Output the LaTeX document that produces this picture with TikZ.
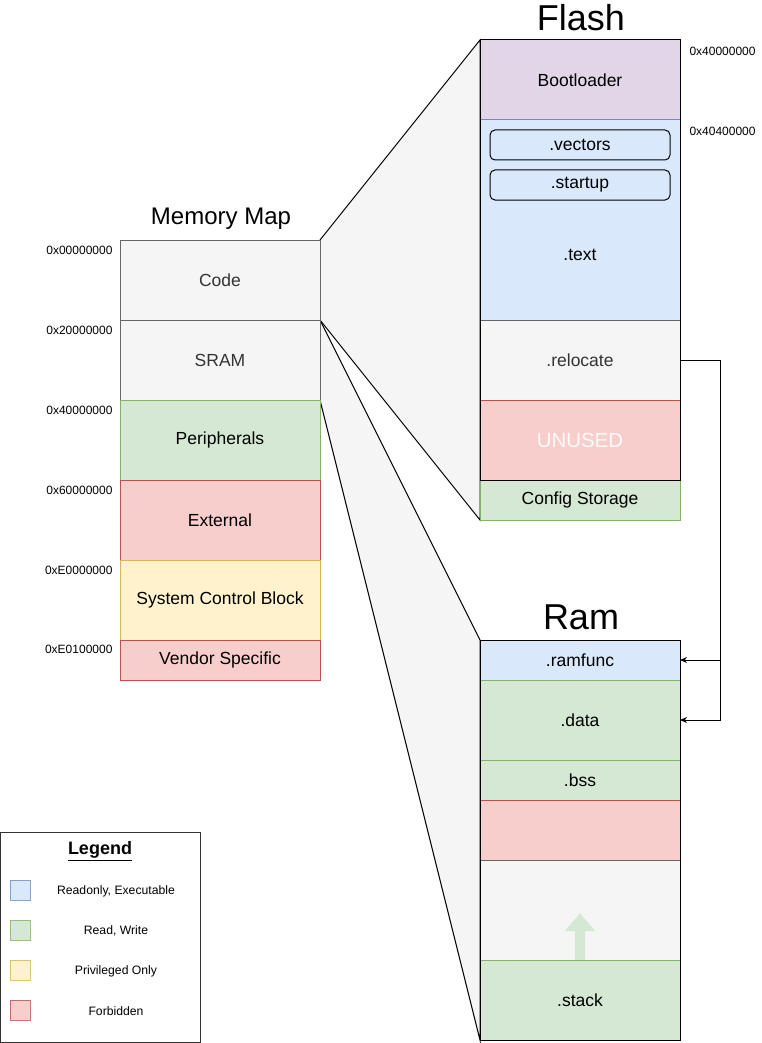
\documentclass[tikz,border=0pt]{standalone}
\usepackage{fontspec}
\setmainfont{Liberation Sans}
\usetikzlibrary{arrows.meta,backgrounds}
\definecolor{blueF}{HTML}{DAE8FC}\definecolor{blueD}{HTML}{6C8EBF}
\definecolor{greenF}{HTML}{D5E8D4}\definecolor{greenD}{HTML}{82B366}
\definecolor{redF}{HTML}{F8CECC}\definecolor{redD}{HTML}{B85450}
\definecolor{yellowF}{HTML}{FFF2CC}\definecolor{yellowD}{HTML}{D6B656}
\definecolor{purpleF}{HTML}{E1D5E7}\definecolor{purpleD}{HTML}{9673A6}
\definecolor{greyF}{HTML}{F5F5F5}\definecolor{greyD}{HTML}{666666}
\definecolor{greyT}{HTML}{333333}
\begin{document}
\begin{tikzpicture}[x=1pt,y=-1pt,>={Stealth[length=7pt,width=6pt]},
    sec/.style={draw,line width=1pt,inner sep=0pt,outer sep=0pt,anchor=north west,
        minimum width=200pt,font={\fontsize{17.5}{20}\selectfont}},
    rx/.style={sec,fill=blueF,draw=blueD},
    rw/.style={sec,fill=greenF,draw=greenD},
    priv/.style={sec,fill=yellowF,draw=yellowD},
    forb/.style={sec,fill=redF,draw=redD},
    idle/.style={sec,fill=greyF,draw=greyD,text=greyT},
    boot/.style={sec,fill=purpleF,draw=purpleD},
    swatch/.style={sec,minimum width=20pt,minimum height=20pt,draw opacity=0.8},
    addr/.style={font={\fontsize{12}{14}\selectfont}},
    title/.style={font={\fontsize{24}{28}\selectfont}},
    bigtitle/.style={font={\fontsize{36}{40}\selectfont}},
    keytext/.style={font={\fontsize{12.2}{14}\selectfont}},
    zoom/.style={fill=greyF,draw=black,line width=1pt}]
\useasboundingbox (0,0) rectangle (761,1043);

% memory map
\node[title] (maptitle) at (221,219) {Memory Map};
\node[idle,minimum height=80pt] (code) at (120,240) {Code};
\node[idle,minimum height=80pt] (sram) at (120,320) {SRAM};
\node[rw,minimum height=80pt] (periph) at (120,400) {Peripherals};
\node[forb,minimum height=80pt] (ext) at (120,480) {External};
\node[priv,minimum height=80pt] (scb) at (120,560) {System Control Block};
\node[forb,minimum height=40pt] (vendor) at (120,640) {Vendor Specific};
\node[addr,anchor=east] (a0) at (116,250) {0x00000000};
\node[addr,anchor=east] (a2) at (116,330) {0x20000000};
\node[addr,anchor=east] (a4) at (116,410) {0x40000000};
\node[addr,anchor=east] (a6) at (116,490) {0x60000000};
\node[addr,anchor=east] (ae) at (116,570) {0xE0000000};
\node[addr,anchor=east] (ae1) at (116,649) {0xE0100000};

% flash
\node[bigtitle] (flashtitle) at (581,18) {Flash};
\node[boot,minimum height=80pt] (bootl) at (480,40) {Bootloader};
\node[rx,minimum height=200pt] (textsec) at (480,120) {};
\node[rx,draw=black,rounded corners=5pt,minimum width=180pt,minimum height=30pt] (vectors) at (490,130) {.vectors};
\node[rx,draw=black,rounded corners=5pt,minimum width=180pt,minimum height=30pt] (startup) at (490,170) {.startup};
\node[font={\fontsize{17.5}{20}\selectfont}] (textlbl) at (580,255) {.text};
\node[idle,minimum height=80pt] (reloc) at (480,320) {.relocate};
\node[forb,minimum height=80pt,text=white,text opacity=0.9,font={\fontsize{20.4}{24}\selectfont}] (unused) at (480,400) {UNUSED};
\node[rw,minimum height=40pt] (cfg) at (480,480) {Config Storage};
\draw[line width=1pt] (bootl.north west) rectangle (unused.south east);
\node[addr,anchor=west] (f0) at (686,51) {0x40000000};
\node[addr,anchor=west] (f4) at (686,131) {0x40400000};

% ram
\node[bigtitle] (ramtitle) at (581,617) {Ram};
\node[rx,minimum height=40pt] (ramfunc) at (480,640) {.ramfunc};
\node[rw,minimum height=80pt] (data) at (480,680) {.data};
\node[rw,minimum height=40pt] (bss) at (480,760) {.bss};
\node[forb,minimum height=60pt] (gap) at (480,800) {};
\node[idle,minimum height=100pt] (free) at (480,860) {};
\node[rw,minimum height=80pt] (stack) at (480,960) {.stack};
\fill[greenF] (575,960) -- (575,931) -- (565,931) -- (580,913) -- (595,931) -- (585,931) -- (585,960) -- cycle;
\draw[rw,draw=greenD] (stack.north west) -- (stack.north east);
\draw[line width=1pt] (ramfunc.north west) rectangle (stack.south east);

% zoom wedges
\begin{scope}[on background layer]
\draw[zoom] (code.north east) -- (bootl.north west) -- (cfg.south west) -- (code.south east) -- cycle;
\draw[zoom] (sram.north east) -- (ramfunc.north west) -- (stack.south west) -- (sram.south east) -- cycle;
\end{scope}

% relocation
\coordinate (junc) at (720,360);
\draw[->,line width=1pt] (reloc.east) -- (junc) |- (data.east);
\draw[->,line width=1pt] (junc |- ramfunc.east) -- (ramfunc.east);

% legend
\draw[line width=1pt,draw=black!80] (0,832) rectangle (200,1042);
\node[font={\fontsize{18}{20}\selectfont\bfseries}] (legtitle) at (100,851) {\underline{Legend}};
\node[swatch,fill=blueF,draw=blueD] (k1) at (10,880) {};
\node[swatch,fill=greenF,draw=greenD] (k2) at (10,920) {};
\node[swatch,fill=yellowF,draw=yellowD] (k3) at (10,960) {};
\node[swatch,fill=redF,draw=redD] (k4) at (10,1000) {};
\node[keytext] (k1t) at (116,891) {Readonly, Executable};
\node[keytext] (k2t) at (116,931) {Read, Write};
\node[keytext] (k3t) at (116,971) {Privileged Only};
\node[keytext] (k4t) at (116,1011) {Forbidden};
\end{tikzpicture}
\end{document}
